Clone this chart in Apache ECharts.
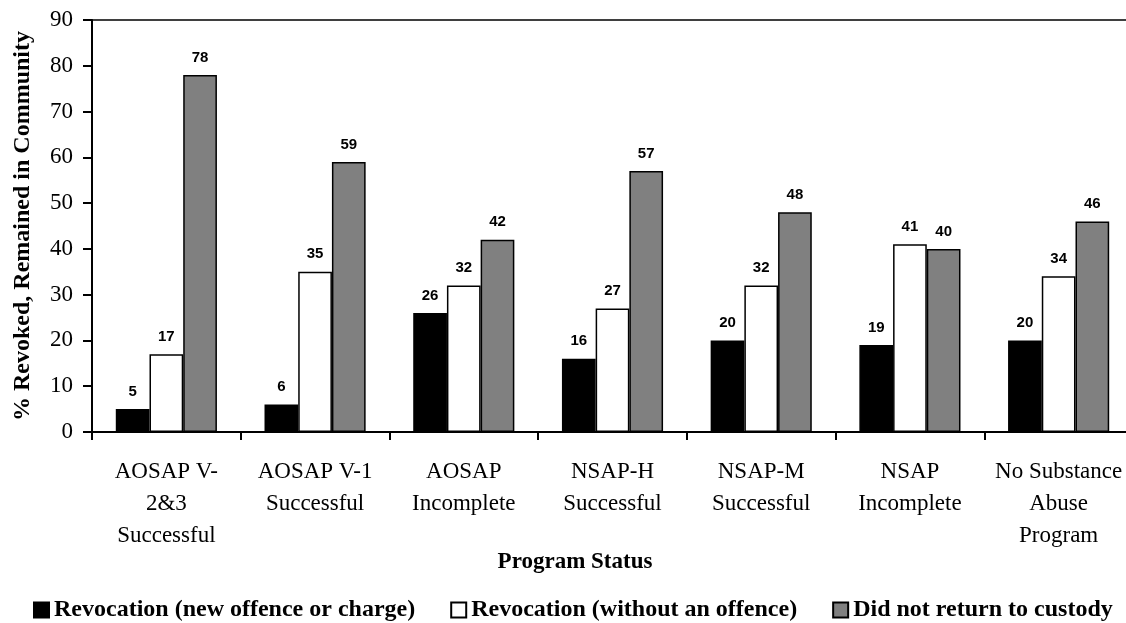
<!DOCTYPE html>
<html>
<head>
<meta charset="utf-8">
<script src="https://cdn.jsdelivr.net/npm/echarts@6/dist/echarts.min.js"></script>
<style>
  html, body { margin: 0; padding: 0; background: #fff; }
  #chart { width: 1126px; height: 623px; }
</style>
</head>
<body>
<div id="chart"></div>
<script>
// Program outcome categories (x axis)
const categories = [
  'AOSAP V-\n2&3\nSuccessful',
  'AOSAP V-1\nSuccessful',
  'AOSAP\nIncomplete',
  'NSAP-H\nSuccessful',
  'NSAP-M\nSuccessful',
  'NSAP\nIncomplete',
  'No Substance\nAbuse\nProgram'
];

// Percent of offenders per outcome
const revocationNewOffence = [5, 6, 26, 16, 20, 19, 20];
const revocationNoOffence = [17, 35, 32, 27, 32, 41, 34];
const didNotReturn = [78, 59, 42, 57, 48, 40, 46];

const seriesNames = [
  'Revocation (new offence or charge)',
  'Revocation (without an offence)',
  'Did not return to custody'
];

const serif = '"Liberation Serif", "Times New Roman", serif';
const sans = '"Liberation Sans", Arial, sans-serif';

function barSeries(name, data, color) {
  return {
    name: name,
    type: 'bar',
    data: data,
    barGap: '0%',
    barCategoryGap: '32%',
    itemStyle: { color: color, borderColor: '#000', borderWidth: 1.5 },
    label: {
      show: true,
      position: 'top',
      distance: 10,
      fontFamily: sans,
      fontWeight: 'bold',
      fontSize: 15,
      color: '#000'
    }
  };
}

const chart = echarts.init(document.getElementById('chart'), null, { renderer: 'canvas' });

chart.setOption({
  animation: false,
  backgroundColor: '#fff',
  title: {
    text: 'Program Status',
    left: 570,
    top: 546,
    textAlign: 'center',
    textStyle: { fontFamily: serif, fontWeight: 'bold', fontSize: 23, color: '#000' }
  },
  legend: {
    data: seriesNames,
    left: 33,
    top: 598,
    padding: 0,
    itemWidth: 15,
    itemHeight: 15,
    itemGap: 35,
    icon: 'rect',
    textStyle: { fontFamily: serif, fontWeight: 'bold', fontSize: 24, color: '#000' }
  },
  grid: {
    left: 92,
    top: 20,
    width: 1041,
    height: 412,
    outerBoundsMode: 'none',
    show: true,
    borderColor: '#000',
    borderWidth: 1.5,
    containLabel: false
  },
  xAxis: {
    type: 'category',
    data: categories,
    axisLine: { lineStyle: { color: '#000', width: 2 } },
    axisTick: { show: true, length: 8, lineStyle: { color: '#000', width: 2 } },
    axisLabel: {
      interval: 0,
      margin: 24,
      fontFamily: serif,
      fontSize: 23,
      lineHeight: 32,
      color: '#000'
    }
  },
  yAxis: {
    type: 'value',
    min: 0,
    max: 90,
    interval: 10,
    name: '% Revoked, Remained in Community',
    nameLocation: 'middle',
    nameGap: 57,
    nameTextStyle: { fontFamily: serif, fontWeight: 'bold', fontSize: 24, color: '#000' },
    axisLine: { show: true, lineStyle: { color: '#000', width: 2 } },
    axisTick: { show: true, length: 9, lineStyle: { color: '#000', width: 2 } },
    splitLine: { show: false },
    axisLabel: {
      margin: 19,
      fontFamily: serif,
      fontSize: 23,
      color: '#000'
    }
  },
  series: [
    barSeries(seriesNames[0], revocationNewOffence, '#000000'),
    barSeries(seriesNames[1], revocationNoOffence, '#ffffff'),
    barSeries(seriesNames[2], didNotReturn, '#808080')
  ]
});
</script>
</body>
</html>
